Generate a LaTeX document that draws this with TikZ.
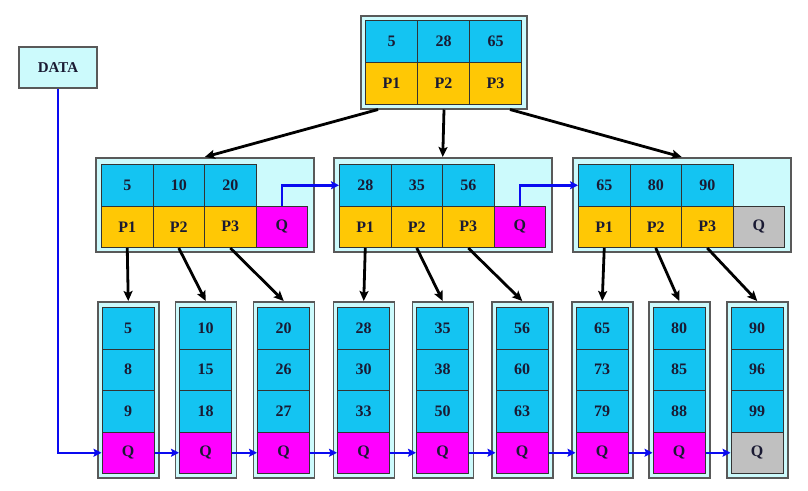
\documentclass[tikz,border=0pt]{standalone}
\usepackage{fontspec}
\setmainfont{Liberation Serif}
\usetikzlibrary{arrows.meta,calc}
\definecolor{cellblue}{HTML}{14C4F2}
\definecolor{cellyellow}{HTML}{FFC805}
\definecolor{cellmag}{HTML}{FF00FF}
\definecolor{cellgray}{HTML}{C0C0C0}
\definecolor{boxfill}{HTML}{CCFAFC}
\definecolor{linkblue}{HTML}{0A0AF0}
\definecolor{txt}{HTML}{1A1A33}
\begin{document}
\begin{tikzpicture}[x=1pt,y=-1pt,
  cell/.style={draw=black!80,line width=1pt,anchor=north west,inner sep=0pt,
    font=\fontsize{16}{16}\selectfont\bfseries,text=txt},
  obox/.style={draw=black!65,fill=boxfill,line width=1.5pt,anchor=north west,inner sep=0pt},
  barrow/.style={draw=black,line width=2.8pt,-{Stealth[length=10pt,width=9pt,inset=2pt]}},
  blink/.style={draw=linkblue,line width=2.5pt,-{Stealth[length=8pt,width=8pt,inset=1.5pt]}}]
\fill[white] (0,0) rectangle (808,490);
\useasboundingbox (0,0) rectangle (808,490);

% DATA box
\node[obox,anchor=center,minimum width=78pt,minimum height=41pt,
  font=\fontsize{15}{15}\selectfont\bfseries,text=txt] (data) at (58,67.5) {DATA};

% root node
\node[obox,minimum width=166pt,minimum height=93pt] (rootbox) at (360,15) {};
\node[cell,fill=cellblue,minimum width=52pt,minimum height=42pt] (rk1) at (365,20) {5};
\node[cell,fill=cellblue,minimum width=52pt,minimum height=42pt] (rk2) at (417,20) {28};
\node[cell,fill=cellblue,minimum width=52pt,minimum height=42pt] (rk3) at (469,20) {65};
\node[cell,fill=cellyellow,minimum width=52pt,minimum height=42pt] (rp1) at (365,62) {P1};
\node[cell,fill=cellyellow,minimum width=52pt,minimum height=42pt] (rp2) at (417,62) {P2};
\node[cell,fill=cellyellow,minimum width=52pt,minimum height=42pt] (rp3) at (469,62) {P3};

% middle nodes
\foreach \x/\n/\a/\b/\c/\qc in {95/L/5/10/20/cellmag, 333/C/28/35/56/cellmag, 572/R/65/80/90/cellgray} {
  \node[obox,minimum width=218pt,minimum height=94pt] (box\n) at (\x,157) {};
  \node[cell,fill=cellblue,minimum width=51.5pt,minimum height=41.5pt] (\n k1) at (\x+6,164) {\a};
  \node[cell,fill=cellblue,minimum width=51.5pt,minimum height=41.5pt] (\n k2) at (\x+57.5,164) {\b};
  \node[cell,fill=cellblue,minimum width=51.5pt,minimum height=41.5pt] (\n k3) at (\x+109,164) {\c};
  \node[cell,fill=cellyellow,minimum width=51.5pt,minimum height=41.5pt] (\n p1) at (\x+6,205.5) {P1};
  \node[cell,fill=cellyellow,minimum width=51.5pt,minimum height=41.5pt] (\n p2) at (\x+57.5,205.5) {P2};
  \node[cell,fill=cellyellow,minimum width=51.5pt,minimum height=41.5pt] (\n p3) at (\x+109,205.5) {P3};
  \node[cell,fill=\qc,minimum width=51.5pt,minimum height=41.5pt] (\n q) at (\x+160.5,205.5) {Q};
}

% leaves
\foreach \i/\x/\a/\b/\c/\qc in {0/97/5/8/9/cellmag, 1/174.5/10/15/18/cellmag,
    2/252.5/20/26/27/cellmag, 3/332.5/28/30/33/cellmag, 4/411.5/35/38/50/cellmag,
    5/491/56/60/63/cellmag, 6/571/65/73/79/cellmag, 7/648/80/85/88/cellmag,
    8/726/90/96/99/cellgray} {
  \node[obox,minimum width=61pt,minimum height=176pt] (leaf\i) at (\x,301) {};
  \node[cell,fill=cellblue,minimum width=52pt,minimum height=41.5pt] (a\i) at (\x+4.5,307) {\a};
  \node[cell,fill=cellblue,minimum width=52pt,minimum height=41.5pt] (b\i) at (\x+4.5,348.5) {\b};
  \node[cell,fill=cellblue,minimum width=52pt,minimum height=41.5pt] (c\i) at (\x+4.5,390) {\c};
  \node[cell,fill=\qc,minimum width=52pt,minimum height=41.5pt] (q\i) at (\x+4.5,431.5) {Q};
}

% root arrows
\coordinate (rs1) at ($(rootbox.south west)+(18,0)$);
\coordinate (rs2) at ($(rootbox.south west)+(84,0)$);
\coordinate (rs3) at ($(rootbox.south west)+(150,0)$);
\draw[barrow] (rs1) -- (boxL.north);
\draw[barrow] (rs2) -- (boxC.north);
\draw[barrow] (rs3) -- (boxR.north);

% middle to leaf arrows
\draw[barrow] (Lp1.south) -- (leaf0.north);
\draw[barrow] (Lp2.south) -- (leaf1.north);
\draw[barrow] (Lp3.south) -- (leaf2.north);
\draw[barrow] (Cp1.south) -- (leaf3.north);
\draw[barrow] (Cp2.south) -- (leaf4.north);
\draw[barrow] (Cp3.south) -- (leaf5.north);
\draw[barrow] (Rp1.south) -- (leaf6.north);
\draw[barrow] (Rp2.south) -- (leaf7.north);
\draw[barrow] (Rp3.south) -- (leaf8.north);

% blue links
\draw[blink] (Lq.north) |- (Ck1.west);
\draw[blink] (Cq.north) |- (Rk1.west);
\draw[blink] (data.south) |- (q0.west);
\foreach \i [count=\j from 1] in {0,...,7} {
  \draw[blink] (q\i.east) -- (q\j.west);
}
\end{tikzpicture}
\end{document}
